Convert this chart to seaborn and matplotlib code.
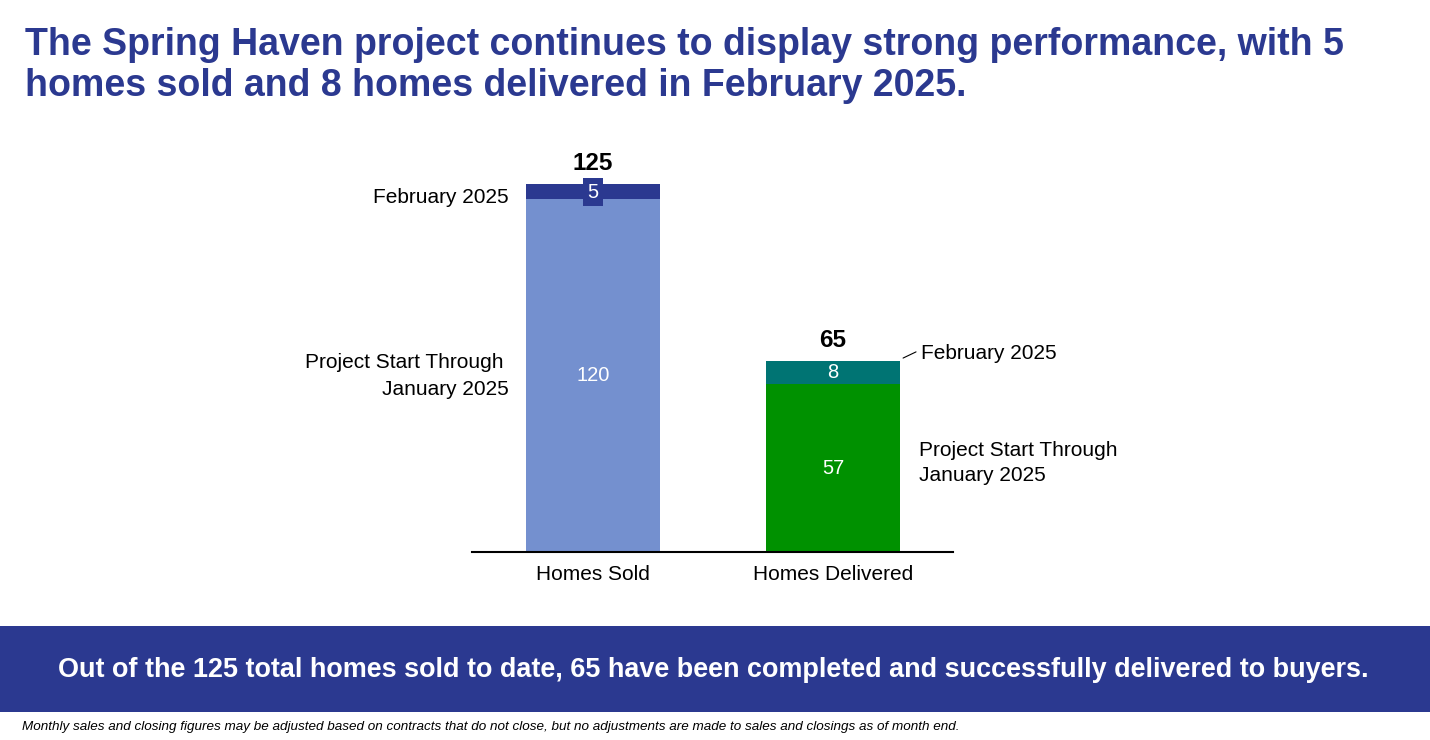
"""Spring Haven homes sold / delivered stacked bar chart."""
import matplotlib
matplotlib.use("Agg")
import matplotlib.pyplot as plt
import seaborn as sns
import pandas as pd
from matplotlib.patches import Rectangle

# data
categories = ["Homes Sold", "Homes Delivered"]
through_jan = [120, 57]
february = [5, 8]
totals = [a + b for a, b in zip(through_jan, february)]

NAVY = "#2B3990"
base_colors = ["#7490CF", "#009100"]
top_colors = ["#2B3990", "#007473"]

sns.set_style("white")
plt.rcParams["font.family"] = ["Liberation Sans", "DejaVu Sans"]
plt.rcParams["text.color"] = "black"
plt.rcParams["xtick.color"] = "black"
plt.rcParams["xtick.labelcolor"] = "black"

df = pd.DataFrame({"category": categories, "base": through_jan,
                   "month": february, "total": totals})

fig = plt.figure(figsize=(14.3, 7.4), dpi=100)
ax = fig.add_axes([472 / 1430, 188 / 740, 481 / 1430, 412 / 740])

# totals first (top segment colour), then the base segment over it
sns.barplot(data=df, x="category", y="total", hue="category",
            palette=top_colors, width=0.56, dodge=False, legend=False,
            saturation=1, linewidth=0, edgecolor="none", ax=ax)
sns.barplot(data=df, x="category", y="base", hue="category",
            palette=base_colors, width=0.56, dodge=False, legend=False,
            saturation=1, linewidth=0, edgecolor="none", ax=ax)

ax.set_xlim(-0.504, 1.5)
ax.set_ylim(0, 140)
ax.set_xlabel("")
ax.set_ylabel("")
ax.set_yticks([])
sns.despine(ax=ax, left=True)
ax.spines["bottom"].set_color("black")
ax.spines["bottom"].set_linewidth(1.5)
ax.tick_params(axis="x", length=0, pad=9, labelsize=15, labelcolor="black")

# value labels
for i in range(len(categories)):
    ax.text(i, totals[i] + 7, str(totals[i]), ha="center", va="center",
            fontsize=17.5, fontweight="bold", color="black")
    ax.text(i, through_jan[i] / 2, str(through_jan[i]), ha="center",
            va="center", fontsize=14.5, color="white")
ax.text(0, through_jan[0] + 2.3, str(february[0]), ha="center", va="center",
        fontsize=14.5, color="white",
        bbox=dict(boxstyle="square,pad=0.22", fc=NAVY, ec="none"))
ax.text(1, through_jan[1] + 4, str(february[1]), ha="center", va="center",
        fontsize=14.5, color="white")

# series labels
ax.text(-0.35, 120.3, "February 2025", ha="right", va="center", fontsize=15)
ax.text(-0.35, 59.8, "Project Start Through \nJanuary 2025", ha="right",
        va="center", fontsize=15, linespacing=1.52)
ax.text(1.367, 67.6, "February 2025", ha="left", va="center", fontsize=15)
ax.plot([1.292, 1.346], [65.9, 68.0], color="black", lw=0.8)
ax.text(1.358, 30.2, "Project Start Through\nJanuary 2025", ha="left",
        va="center", fontsize=15, linespacing=1.41)

# title, one text per line
title_lines = ["The Spring Haven project continues to display strong performance, with 5",
               "homes sold and 8 homes delivered in February 2025."]
for line, base_px in zip(title_lines, [55, 96]):
    fig.text(25 / 1430, 1 - base_px / 740, line, ha="left", va="baseline",
             fontsize=27, fontweight="bold", color=NAVY)

# bottom banner
fig.patches.append(Rectangle((0, 28 / 740), 1, 86 / 740, transform=fig.transFigure,
                             facecolor=NAVY, edgecolor="none", zorder=0))
fig.text(0.499, (740 - 670) / 740,
         "Out of the 125 total homes sold to date, 65 have been completed and "
         "successfully delivered to buyers.",
         ha="center", va="center", fontsize=19.45, fontweight="bold", color="white")

fig.text(22 / 1430, (740 - 727) / 740,
         "Monthly sales and closing figures may be adjusted based on contracts that "
         "do not close, but no adjustments are made to sales and closings as of month end.",
         ha="left", va="center", fontsize=9.7, style="italic", color="black")

fig.savefig("out.png", dpi=100)
plt.close(fig)
